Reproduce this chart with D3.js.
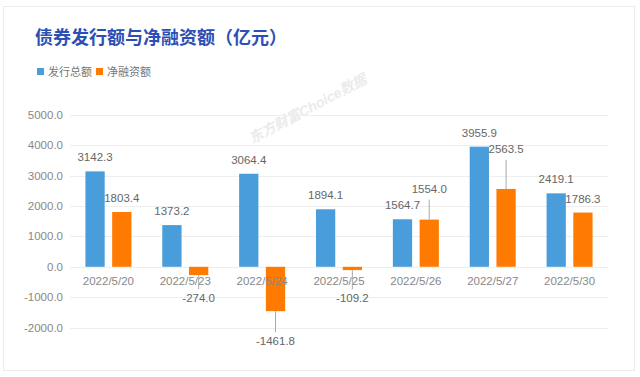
<!DOCTYPE html>
<html>
<head>
<meta charset="utf-8">
<script src="https://cdn.jsdelivr.net/npm/d3@7"></script>
<style>
  body { margin: 0; background: #fff; }
  text { font-family: "Liberation Sans", "Noto Sans CJK SC", sans-serif; }
</style>
</head>
<body>
<div id="app"></div>
<script>
// data
const dates = ["2022/5/20", "2022/5/23", "2022/5/24", "2022/5/25", "2022/5/26", "2022/5/27", "2022/5/30"];
const issueTotal = [3142.3, 1373.2, 3064.4, 1894.1, 1564.7, 3955.9, 2419.1];
const netFinancing = [1803.4, -274.0, -1461.8, -109.2, 1554.0, 2563.5, 1786.3];
const seriesNames = ["发行总额", "净融资额"];
const yTicks = [-2000, -1000, 0, 1000, 2000, 3000, 4000, 5000];
// leader line lengths for labels pushed away (px)
const netLeader = [0, 14, 21, 19, 20, 29, 0];

const width = 640, height = 377;
const margin = { top: 115, right: 32, bottom: 50, left: 70 };
const fmt = v => v.toFixed(1);

const svg = d3.select("#app").append("svg")
  .attr("width", width).attr("height", height);

// card
svg.append("rect")
  .attr("x", 3.5).attr("y", 6.5).attr("width", 631).attr("height", 364)
  .attr("fill", "#fff").attr("stroke", "#ececec");

// title
svg.append("text")
  .attr("x", 35).attr("y", 44)
  .attr("font-family", "Noto Sans CJK SC")
  .attr("font-size", 18).attr("font-weight", "bold")
  .attr("fill", "#2c4fb5")
  .text("债券发行额与净融资额（亿元）");

// legend
const colors = ["#4a9ddb", "#ff7a00"];
const legendX = [37, 96];
seriesNames.forEach((n, i) => {
  svg.append("rect").attr("x", legendX[i]).attr("y", 68).attr("width", 7).attr("height", 7).attr("fill", colors[i]);
  svg.append("text").attr("x", legendX[i] + 11).attr("y", 76)
    .attr("font-family", "Noto Sans CJK SC")
    .attr("font-size", 11).attr("fill", "#777").text(n);
});

// scales
const y = d3.scaleLinear().domain([-2000, 5000]).range([327.5, 115]);
const x0 = d3.scaleBand().domain(dates).range([margin.left, width - margin.right]);
const x1 = d3.scaleBand().domain([0, 1]).range([x0.bandwidth() / 2 - 23, x0.bandwidth() / 2 + 23]).paddingInner(0.28);

// watermark
svg.append("text")
  .attr("transform", "translate(310,113) rotate(-28)")
  .attr("text-anchor", "middle")
  .attr("font-family", "serif").attr("font-weight", "bold").attr("font-style", "italic")
  .attr("font-size", 14).attr("fill", "#ebebeb")
  .text("东方财富Choice数据");

// grid
const grid = svg.append("g");
grid.selectAll("line").data(yTicks).join("line")
  .attr("x1", margin.left).attr("x2", width - margin.right)
  .attr("y1", d => Math.round(y(d)) + 0.5).attr("y2", d => Math.round(y(d)) + 0.5)
  .attr("stroke", "#eeeeee");

// y axis labels
svg.append("g").selectAll("text").data(yTicks).join("text")
  .attr("x", 63).attr("y", d => y(d) + 4)
  .attr("text-anchor", "end").attr("font-size", 11.5).attr("fill", "#888")
  .text(fmt);

// bars
const series = [issueTotal, netFinancing];
series.forEach((vals, si) => {
  svg.append("g").selectAll("rect").data(vals).join("rect")
    .attr("x", (d, i) => x0(dates[i]) + x1(si))
    .attr("width", x1.bandwidth())
    .attr("y", d => y(Math.max(0, d)))
    .attr("height", d => Math.abs(y(d) - y(0)))
    .attr("fill", colors[si]);
});

// category labels
svg.append("g").selectAll("text").data(dates).join("text")
  .attr("x", d => x0(d) + x0.bandwidth() / 2)
  .attr("y", 285)
  .attr("text-anchor", "middle").attr("font-size", 11.5).attr("fill", "#888")
  .text(d => d);

// value labels
const labels = svg.append("g").attr("font-size", 11.5).attr("fill", "#666").attr("text-anchor", "middle");
series.forEach((vals, si) => {
  vals.forEach((v, i) => {
    const cx = x0(dates[i]) + x1(si) + x1.bandwidth() / 2;
    const lead = si === 1 ? netLeader[i] : 0;
    const end = y(v);
    let ty;
    if (v >= 0) {
      if (lead) {
        labels.append("line").attr("x1", cx).attr("x2", cx).attr("y1", end).attr("y2", end - lead)
          .attr("stroke", "#aaa");
        ty = end - lead - 7;
      } else {
        ty = end - 10;
      }
    } else {
      labels.append("line").attr("x1", cx).attr("x2", cx).attr("y1", end).attr("y2", end + lead)
        .attr("stroke", "#aaa");
      ty = end + lead + 13;
    }
    labels.append("text").attr("x", cx).attr("y", ty).text(fmt(v));
  });
});
</script>
</body>
</html>
